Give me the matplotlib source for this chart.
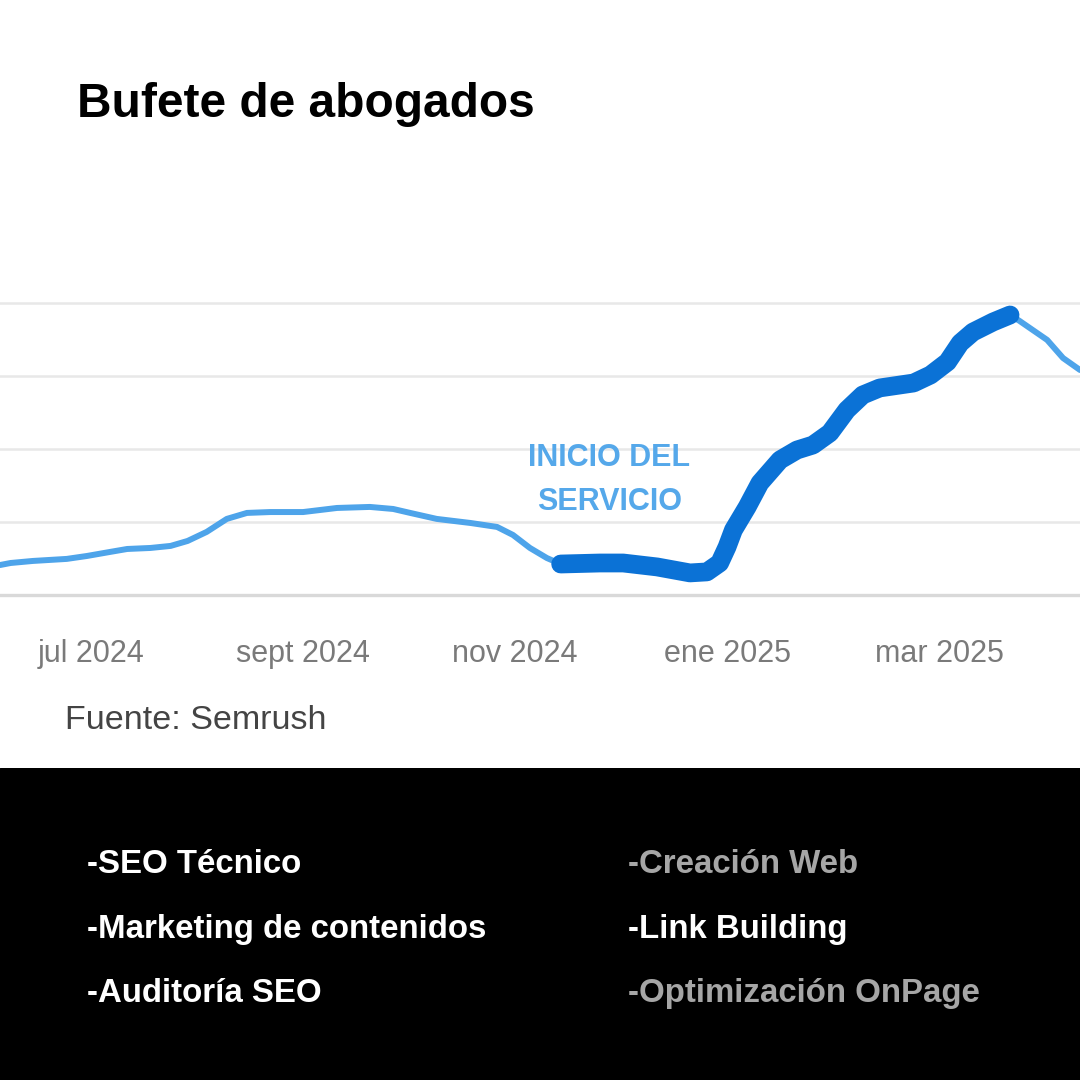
import matplotlib.pyplot as plt

plt.rcParams['font.family'] = ['Liberation Sans', 'DejaVu Sans']

# months since jul 2024 (0 = jul 2024) and organic traffic (arbitrary units)
months = [-0.86, -0.76, -0.55, -0.23, -0.04, 0.18, 0.34, 0.56, 0.75, 0.91,
          1.09, 1.28, 1.47, 1.69, 2.00, 2.32, 2.63, 2.85, 3.01, 3.26,
          3.58, 3.83, 3.98, 4.14, 4.30, 4.43, 4.80, 5.02, 5.34, 5.65,
          5.81, 5.93, 6.00, 6.06, 6.19, 6.31, 6.50, 6.66, 6.81, 6.97,
          7.13, 7.28, 7.44, 7.76, 7.92, 8.08, 8.20, 8.32, 8.51, 8.67,
          8.76, 9.02, 9.17, 9.33]
traffic = [20.5, 21.9, 23.3, 24.7, 26.7, 29.5, 31.5, 32.2, 33.6, 37.0,
           43.2, 52.1, 56.2, 56.8, 56.8, 59.6, 60.3, 58.9, 56.2, 52.1,
           49.3, 46.6, 41.1, 32.2, 25.3, 21.2, 21.9, 21.9, 19.2, 15.1,
           15.8, 21.9, 32.9, 44.5, 60.3, 76.7, 92.5, 99.3, 102.7, 111.0,
           126.7, 137.0, 141.8, 145.2, 150.7, 159.6, 172.6, 180.1, 187.0, 191.8,
           187.7, 174.7, 162.3, 154.1]

# highlighted stretch: from start of service to the peak
service_start = 4.42
service_peak = 8.67

tick_months = [0, 2, 4, 6, 8]
tick_labels = ['jul 2024', 'sept 2024', 'nov 2024', 'ene 2025', 'mar 2025']
grid_values = [50, 100, 150, 200]

services_left = ['-SEO Técnico', '-Marketing de contenidos', '-Auditoría SEO']
services_right = ['-Creación Web', '-Link Building', '-Optimización OnPage']
right_colors = ['#a6a6a6', 'white', '#a6a6a6']

fig = plt.figure(figsize=(10.8, 10.8), dpi=100)
fig.patch.set_facecolor('white')

# black panel at the bottom
panel = fig.add_axes([0, 0, 1, 312 / 1080])
panel.axis('off')
panel.add_patch(plt.Rectangle((0, 0), 1, 1, color='black', transform=panel.transAxes))

# main chart
ax = fig.add_axes([0, 1 - 610 / 1080, 1, 360 / 1080])
ax.set_xlim(-0.86, 9.33)
ax.set_ylim(-10.3, 236.3)
for v in grid_values:
    ax.axhline(v, color='#e8e8e8', lw=1.8, zorder=0)
ax.axhline(0, color='#d9d9d9', lw=2.4, zorder=0)

ax.plot(months, traffic, color='#4ea4ea', lw=4.3, solid_capstyle='round',
        solid_joinstyle='round', zorder=2)
hi = [(m, t) for m, t in zip(months, traffic) if service_start <= m <= service_peak]
ax.plot([p[0] for p in hi], [p[1] for p in hi], color='#0b72d6', lw=13.5,
        solid_capstyle='round', solid_joinstyle='round', zorder=3)

ax.set_xticks(tick_months)
ax.set_xticklabels(tick_labels, color='#7a7a7a', fontsize=22)
ax.tick_params(axis='x', length=0, pad=21)
ax.set_yticks([])
for s in ax.spines.values():
    s.set_visible(False)
ax.set_facecolor('none')

ax.text(4.89, 78.5, 'INICIO DEL\nSERVICIO', color='#55a8ea', fontsize=22,
        fontweight='bold', ha='center', va='center', linespacing=1.6)

fig.text(77 / 1080, 1 - 117 / 1080, 'Bufete de abogados', fontsize=34.5,
         fontweight='bold', color='black', ha='left', va='baseline')
fig.text(65 / 1080, 1 - 729 / 1080, 'Fuente: Semrush', fontsize=24.5,
         color='#444444', ha='left', va='baseline')

rows_y = [873, 938, 1002]
for label, y in zip(services_left, rows_y):
    fig.text(87 / 1080, 1 - y / 1080, label, fontsize=23.8, fontweight='bold',
             color='white', ha='left', va='baseline')
for label, y, c in zip(services_right, rows_y, right_colors):
    fig.text(628 / 1080, 1 - y / 1080, label, fontsize=23.8, fontweight='bold',
             color=c, ha='left', va='baseline')

fig.savefig('out.png', dpi=100)
